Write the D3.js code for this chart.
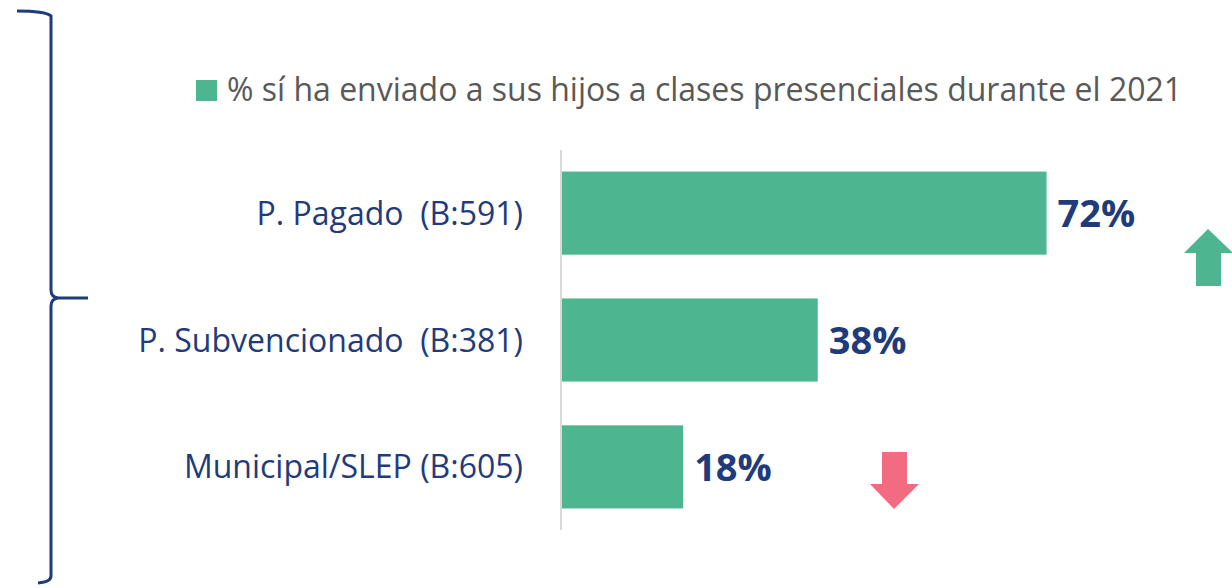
<!DOCTYPE html>
<html>
<head>
<meta charset="utf-8">
<script src="https://cdn.jsdelivr.net/npm/d3@7"></script>
<style>
  body { margin: 0; background: #fff; }
  text { white-space: pre; }
</style>
</head>
<body>
<div id="chart"></div>
<script>
// data
const categories = ["P. Pagado  (B:591)", "P. Subvencionado  (B:381)", "Municipal/SLEP (B:605)"];
const values = [72, 38, 18];
const legendLabel = "% sí ha enviado a sus hijos a clases presenciales durante el 2021";

const width = 1232, height = 588;
const green = "#4db690", navy = "#1f3b7b", pink = "#f26b80";

const svg = d3.select("#chart").append("svg")
    .attr("width", width)
    .attr("height", height);

const x = d3.scaleLinear().domain([0, 100]).range([562, 1235]);
const y = d3.scaleBand().domain(categories).range([150, 530]).paddingInner(0.345).paddingOuter(0.17);

// axis line
svg.append("line")
    .attr("x1", 561).attr("x2", 561)
    .attr("y1", 150).attr("y2", 530)
    .attr("stroke", "#d9d9d9")
    .attr("stroke-width", 2);

// bars
svg.selectAll("rect.bar")
    .data(values)
    .enter().append("rect")
    .attr("class", "bar")
    .attr("x", x(0))
    .attr("y", (d, i) => y(categories[i]))
    .attr("width", d => x(d) - x(0))
    .attr("height", y.bandwidth())
    .attr("fill", green);

// value labels
svg.selectAll("text.val")
    .data(values)
    .enter().append("text")
    .attr("class", "val")
    .attr("x", d => x(d) + 11)
    .attr("y", (d, i) => y(categories[i]) + y.bandwidth() / 2 + 14)
    .text(d => d + "%")
    .style("font-family", "'Open Sans', sans-serif")
    .style("font-weight", 700)
    .style("font-size", "38px")
    .style("fill", navy);

// category labels
svg.selectAll("text.cat")
    .data(categories)
    .enter().append("text")
    .attr("class", "cat")
    .attr("x", 523)
    .attr("y", d => y(d) + y.bandwidth() / 2 + 11.5)
    .attr("text-anchor", "end")
    .text(d => d)
    .style("font-family", "'Open Sans', sans-serif")
    .style("font-size", "32px")
    .style("fill", navy);

// legend
svg.append("rect")
    .attr("x", 196).attr("y", 80)
    .attr("width", 21).attr("height", 21)
    .attr("fill", green);
svg.append("text")
    .attr("x", 227).attr("y", 101)
    .text(legendLabel)
    .style("font-family", "'Open Sans', sans-serif")
    .style("font-size", "32px")
    .style("fill", "#595959");

// brace
svg.append("path")
    .attr("d", "M17,11 Q45,11 51,16 L51,290 Q51,297 58,298 L88,298 L58,298 Q51,299 51,306 L51,576 Q51,582 38,583")
    .attr("fill", "none")
    .attr("stroke", navy)
    .attr("stroke-width", 3);

// arrows
svg.append("path")
    .attr("d", "M1208,229 L1233,253 L1221,253 L1221,286 L1196,286 L1196,253 L1184,253 Z")
    .attr("fill", green);
svg.append("path")
    .attr("d", "M882,452 L907,452 L907,484 L919,484 L894,509 L870,484 L882,484 Z")
    .attr("fill", pink);
</script>
</body>
</html>
